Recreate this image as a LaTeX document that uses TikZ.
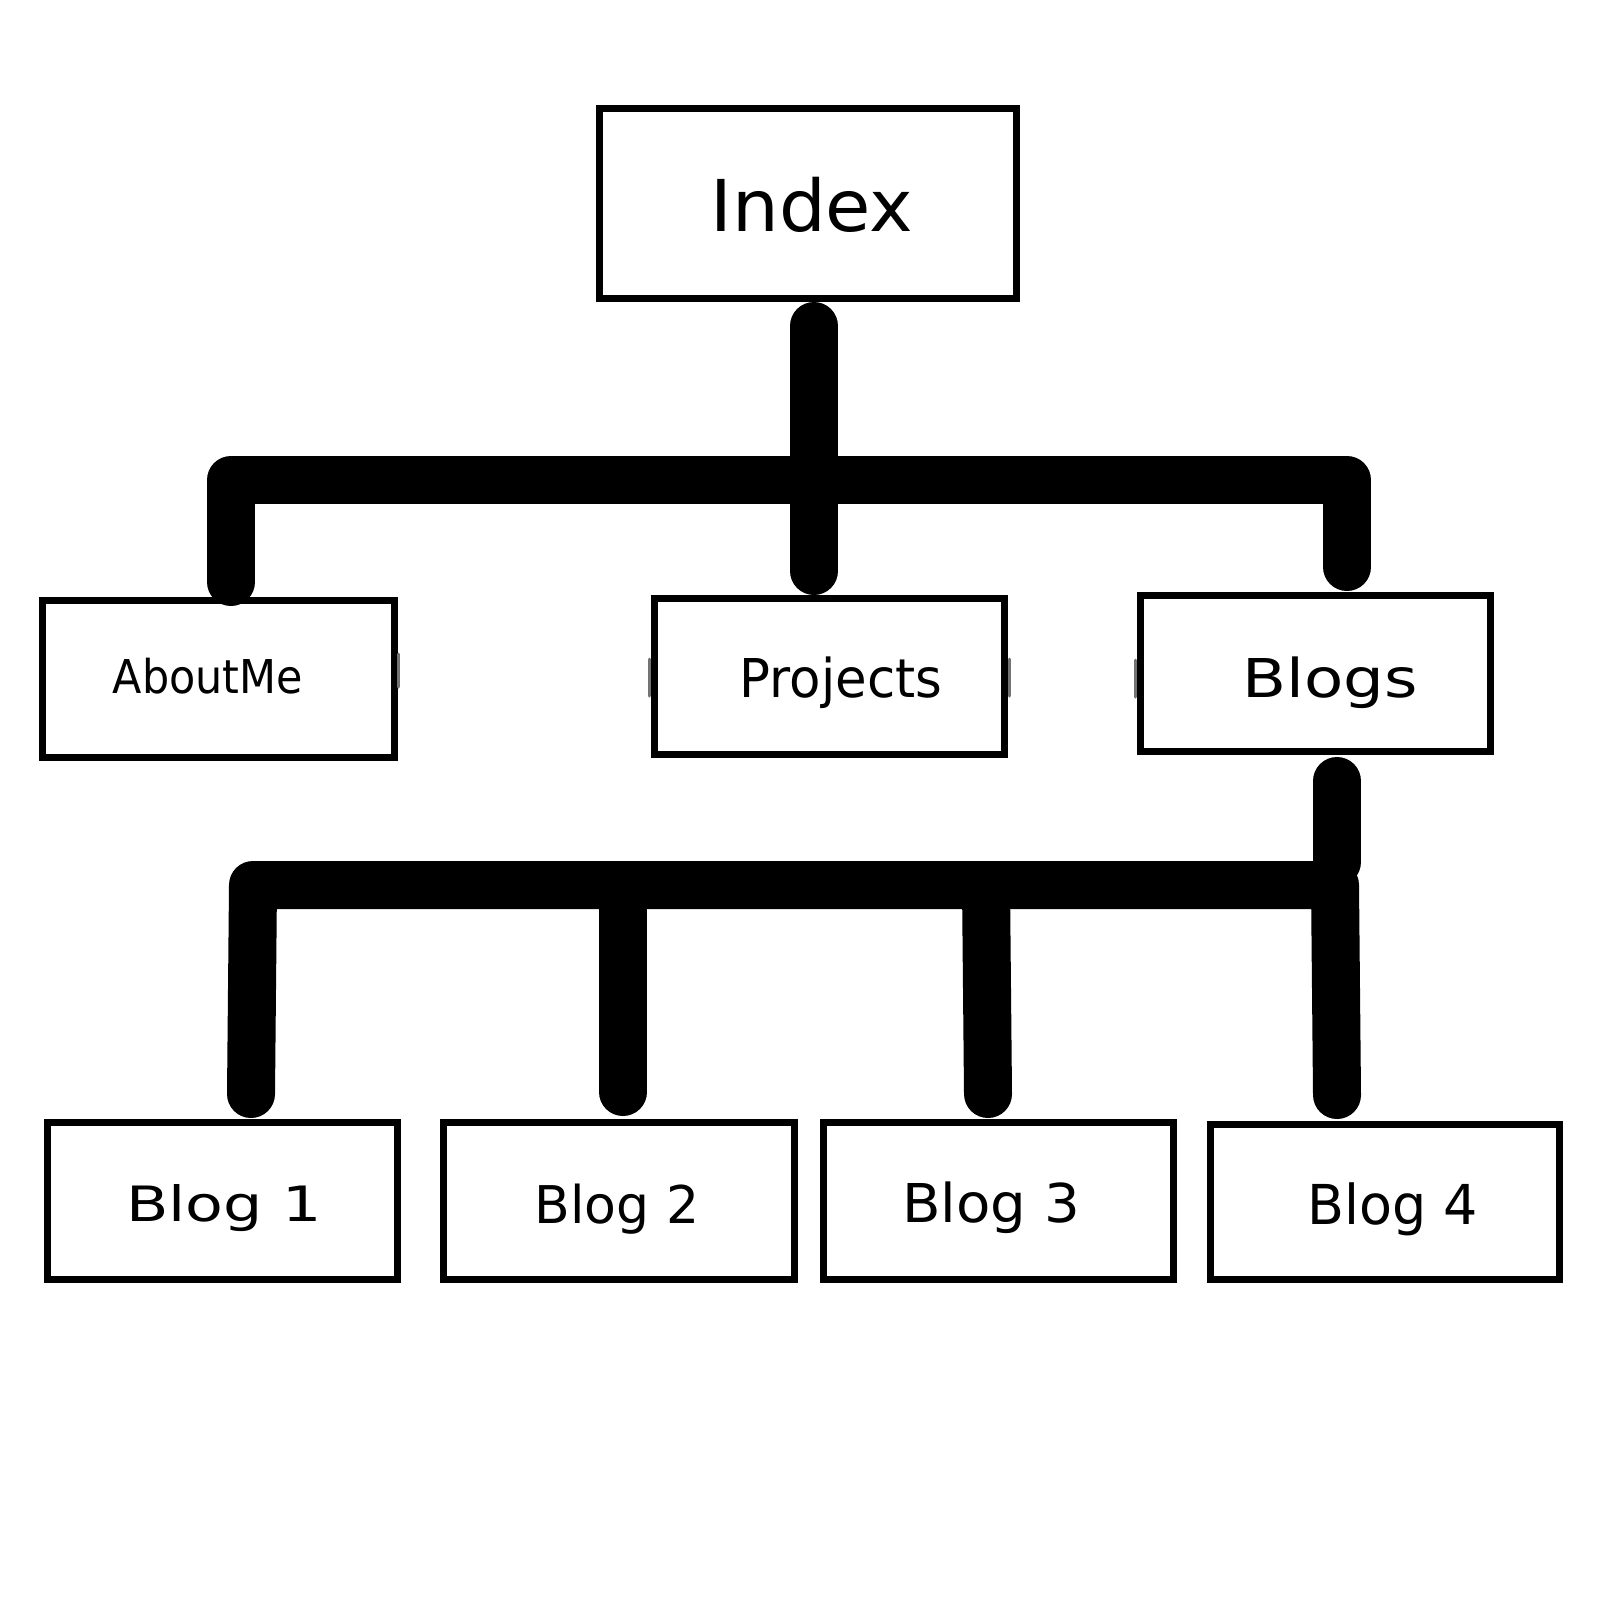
\documentclass[tikz,border=0pt]{standalone}
\usepackage{fontspec}
\usepackage{graphicx}
\setmainfont{DejaVu Sans}
% label text: size (px), horizontal stretch, text
\newcommand{\boxlabel}[3]{\fontsize{#1}{#1}\selectfont\scalebox{#2}[1]{#3}}
\begin{document}
\begin{tikzpicture}[x=1pt,y=-1pt,
  pagebox/.style={draw=black, line width=7.5pt, fill=white, inner sep=0pt, outer sep=0pt},
  lbl/.style={anchor=base, inner sep=0pt, text=black},
  link/.style={draw=black, line width=48pt, line cap=round, line join=round},
  seam/.style={draw=black!55, line width=3pt, line cap=round}]
\useasboundingbox (0,0) rectangle (1600,1600);
\fill[white] (0,0) rectangle (1600,1600);

% --- junction points of the connectors ---
\coordinate (barL) at (231,480);
\coordinate (barR) at (1347,480);
\coordinate (hubB) at (1337,862);
\coordinate (lbarL) at (253,885);
\coordinate (lbarR) at (1335,885);
\coordinate (b2top) at (623,885);
\coordinate (b3top) at (986,885);

% --- pages ---
\node[pagebox, minimum width=417pt, minimum height=190pt] (index) at (808,203.5) {};
\node[pagebox, minimum width=352pt, minimum height=157pt] (aboutme) at (218.5,679) {};
\node[pagebox, minimum width=350pt, minimum height=156pt] (projects) at (829.5,676.5) {};
\node[pagebox, minimum width=350pt, minimum height=156pt] (blogs) at (1315.5,673.5) {};
\node[pagebox, minimum width=350pt, minimum height=157pt] (blog1) at (222.5,1201) {};
\node[pagebox, minimum width=351pt, minimum height=157pt] (blog2) at (619,1201) {};
\node[pagebox, minimum width=350pt, minimum height=157pt] (blog3) at (998.5,1201) {};
\node[pagebox, minimum width=349pt, minimum height=155pt] (blog4) at (1385,1202) {};

% first level
\draw[link] ([xshift=6pt,yshift=-27.5pt]index.south) -- ([xshift=-15.5pt,yshift=27.5pt]projects.north);
\draw[link] ([xshift=12.5pt,yshift=18.5pt]aboutme.north) -- (barL) -- (barR) -- ([xshift=31.5pt,yshift=28.5pt]blogs.north);

% second level
\draw[link] ([xshift=21.5pt,yshift=-29.5pt]blogs.south) -- (hubB);
\draw[link] ([xshift=28.5pt,yshift=28.5pt]blog1.north) -- (lbarL) -- (lbarR) -- ([xshift=-48pt,yshift=29.5pt]blog4.north);
\draw[link] (b2top) -- ([xshift=4pt,yshift=30.5pt]blog2.north);
\draw[link] (b3top) -- ([xshift=-10.5pt,yshift=28.5pt]blog3.north);

% faint seams beside some boxes
\draw[seam] (649,659) -- (649,696);
\draw[seam] (1009,659) -- (1009,696);
\draw[seam] (1135,660) -- (1135,697);
\draw[seam] (398,654) -- (398,687);

% --- labels ---
\node[lbl] (tindex) at (812,231) {\boxlabel{71.5}{1.03}{Index}};
\node[lbl] (taboutme) at (208,693) {\boxlabel{46.6}{0.92}{AboutMe}};
\node[lbl] (tprojects) at (841,697) {\boxlabel{53.5}{0.96}{Projects}};
\node[lbl] (tblogs) at (1330,697) {\boxlabel{53.5}{1.2}{Blogs}};
\node[lbl] (tblog1) at (224,1221) {\boxlabel{48.7}{1.27}{Blog 1}};
\node[lbl] (tblog2) at (617,1223) {\boxlabel{52}{1.0}{Blog 2}};
\node[lbl] (tblog3) at (991,1222) {\boxlabel{53.5}{1.05}{Blog 3}};
\node[lbl] (tblog4) at (1393,1224) {\boxlabel{55}{0.98}{Blog 4}};
\end{tikzpicture}
\end{document}
